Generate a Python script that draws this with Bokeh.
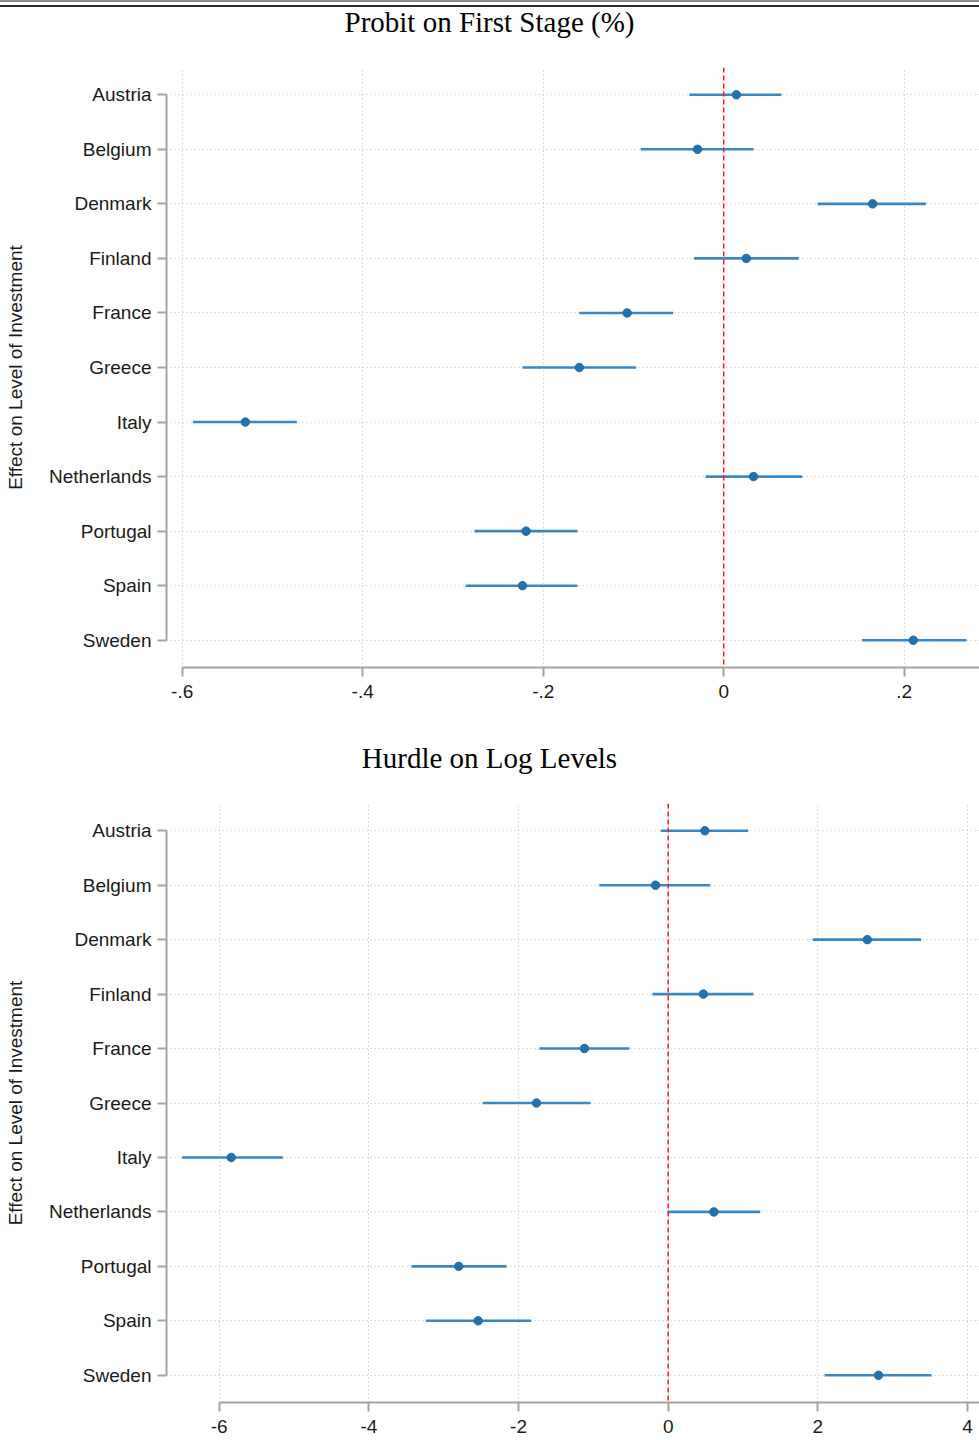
from bokeh.plotting import figure
from bokeh.models import (FactorRange, Range1d, Span, Div, Column,
                          ColumnDataSource)
from bokeh.embed import file_html
from bokeh.resources import INLINE

# ---------------- data ----------------
countries = ["Austria", "Belgium", "Denmark", "Finland", "France", "Greece",
             "Italy", "Netherlands", "Portugal", "Spain", "Sweden"]

probit_est = [0.014, -0.029, 0.165, 0.025, -0.107, -0.160, -0.530, 0.033, -0.219, -0.223, 0.210]
probit_lo = [-0.038, -0.092, 0.104, -0.033, -0.160, -0.223, -0.588, -0.020, -0.276, -0.286, 0.153]
probit_hi = [0.064, 0.033, 0.224, 0.083, -0.056, -0.097, -0.473, 0.087, -0.162, -0.162, 0.269]

hurdle_est = [0.49, -0.17, 2.66, 0.47, -1.12, -1.76, -5.84, 0.61, -2.80, -2.54, 2.81]
hurdle_lo = [-0.10, -0.92, 1.93, -0.21, -1.72, -2.48, -6.50, -0.01, -3.43, -3.24, 2.09]
hurdle_hi = [1.07, 0.56, 3.38, 1.14, -0.52, -1.04, -5.15, 1.23, -2.16, -1.83, 3.52]

probit_ticks = [-0.6, -0.4, -0.2, 0, 0.2]
probit_tick_labels = ["-.6", "-.4", "-.2", "0", ".2"]
hurdle_ticks = [-6, -4, -2, 0, 2, 4]
hurdle_tick_labels = ["-6", "-4", "-2", "0", "2", "4"]

titles = ["Probit on First Stage (%)", "Hurdle on Log Levels"]
y_label = "Effect on Level of Investment"

# ---------------- styling ----------------
W = 979
FRAME_LEFT = 166
AXIS_COLOR = "#a3a3a3"
GRID_COLOR = "#b9b9b9"
BAR_COLOR = "#3b87c4"
DOT_COLOR = "#2170b0"
SANS = "Liberation Sans"
SERIF = "Liberation Serif"


def panel(est, lo, hi, ticks, tick_labels, xr, height, btop, bbot):
    src = ColumnDataSource(dict(country=countries, est=est, lo=lo, hi=hi))
    p = figure(width=W, height=height,
               x_range=Range1d(*xr),
               y_range=FactorRange(factors=countries[::-1]),
               output_backend="svg", toolbar_location=None,
               min_border_left=FRAME_LEFT, min_border_right=0,
               min_border_top=btop, min_border_bottom=bbot, margin=0)
    p.outline_line_color = None
    p.background_fill_color = "white"
    p.border_fill_color = "white"

    for g in (p.xgrid, p.ygrid):
        g.grid_line_color = GRID_COLOR
        g.grid_line_dash = "1 3"
        g.grid_line_width = 1

    xa = p.xaxis[0]
    xa.ticker = ticks
    xa.major_label_overrides = {t: l for t, l in zip(ticks, tick_labels)}
    xa.bounds = (ticks[0] - 1e-9, xr[1] + 1)
    xa.major_label_standoff = 8

    ya = p.yaxis[0]
    ya.bounds = (0.5 - 0.01, len(countries) - 0.5 + 0.01)
    ya.axis_label = y_label
    ya.axis_label_standoff = 20
    ya.axis_label_text_font = SANS
    ya.axis_label_text_font_size = "19px"
    ya.axis_label_text_font_style = "normal"
    ya.axis_label_text_color = "#1a1a1a"
    ya.major_label_standoff = 6

    for a in (xa, ya):
        a.axis_line_color = AXIS_COLOR
        a.axis_line_width = 2
        a.major_tick_line_color = AXIS_COLOR
        a.major_tick_line_width = 2
        a.major_tick_out = 9
        a.major_tick_in = 0
        a.minor_tick_line_color = None
        a.major_label_text_font = SANS
        a.major_label_text_font_size = "19px"
        a.major_label_text_color = "#1a1a1a"

    p.segment(x0="lo", y0="country", x1="hi", y1="country", source=src,
              line_color=BAR_COLOR, line_width=2.6)
    p.scatter(x="est", y="country", source=src, size=8.5,
              fill_color=DOT_COLOR, line_color=DOT_COLOR)

    p.add_layout(Span(location=0, dimension="height", line_color="#ff1a1a",
                      line_dash="5 3", line_width=1.5))
    return p


def title_div(text, height, pad_top):
    html = ('<div style="width:%dpx;text-align:center;font-family:\'%s\';'
            'font-size:29px;line-height:28px;color:#000;padding-top:%dpx;'
            'margin:0;white-space:nowrap;">%s</div>' % (W, SERIF, pad_top, text))
    return Div(text=html, width=W, height=height, margin=0)


p1 = panel(probit_est, probit_lo, probit_hi, probit_ticks,
           probit_tick_labels, (-0.6174, 0.2834), 685, 22, 63)
p2 = panel(hurdle_est, hurdle_lo, hurdle_hi, hurdle_ticks,
           hurdle_tick_labels, (-6.705, 4.16), 661, 24, 38)

rule = Div(text="", width=W, height=8, margin=0,
           styles={"background": "linear-gradient(to bottom, #8c8c8c 0px, #8c8c8c 2px, "
                                 "#ffffff 2px, #ffffff 5px, #2b2b2b 5px, #2b2b2b 7px, "
                                 "#ffffff 7px, #ffffff 8px)"})

t1 = title_div(titles[0], 37, 0)
t2 = title_div(titles[1], 49, 14)

root = Column(children=[rule, t1, p1, t2, p2], spacing=0, margin=0)

open("out.html", "w").write(file_html(root, INLINE))
